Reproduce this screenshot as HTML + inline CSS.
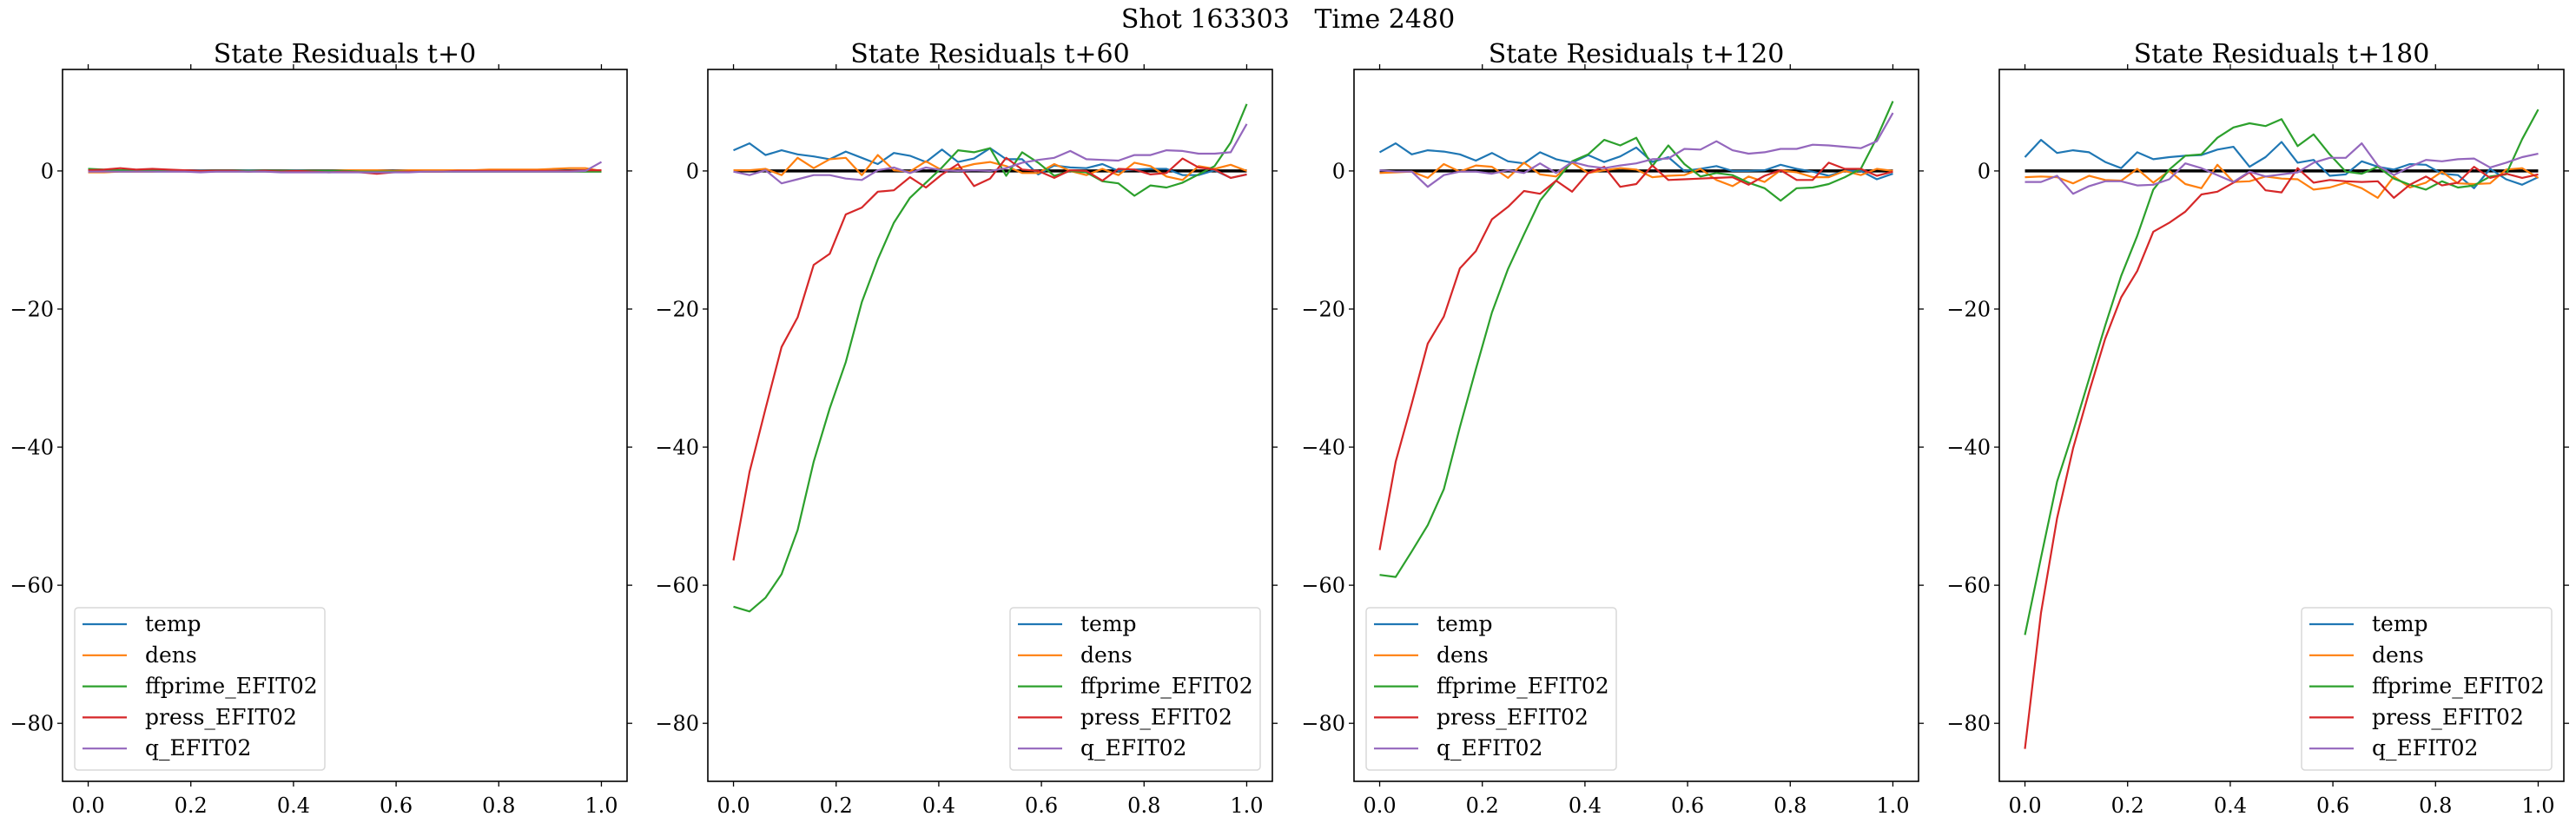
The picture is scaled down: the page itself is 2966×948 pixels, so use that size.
<!DOCTYPE html>
<html><head><meta charset="utf-8"><style>
html,body{margin:0;padding:0;background:#fff;}
svg text{font-family:"DejaVu Serif","Liberation Serif",serif;fill:#000;}
</style></head><body>
<svg id="fig" width="2966" height="943" viewBox="0 0 2966 943" xmlns="http://www.w3.org/2000/svg">
<rect width="2966" height="943" fill="#fff"/>
<text x="1483" y="32" font-size="30" text-anchor="middle" xml:space="preserve">Shot 163303   Time 2480</text>
</svg>
<script>
const seriesNames = ["temp","dens","ffprime_EFIT02","press_EFIT02","q_EFIT02"];
const panelTitles = ["State Residuals t+0","State Residuals t+60","State Residuals t+120","State Residuals t+180"];
const xTicks = [0,0.2,0.4,0.6,0.8,1.0];
const xTickLabels = ["0.0","0.2","0.4","0.6","0.8","1.0"];
const yTicks = [0,-20,-40,-60,-80];
const yTickLabels = ["0","\u221220","\u221240","\u221260","\u221280"];

const p0temp = [0.1,0,0.1,0,0.1,0,0,0.1,0,0,0.1,0,0,0.1,0,0,0,0.1,0,0,0.1,0,0,0.1,0,0,0.1,0,0,0.1,0,0.1,0.1];
const p0dens = [-0.2,-0.2,-0.1,-0.1,-0.1,0,0,0,0,0,0,0,0,0,0,0,0.1,0.1,0.1,0,0.1,0.1,0.1,0.1,0.1,0.2,0.2,0.2,0.2,0.3,0.4,0.4,0];
const p0ffp = [0.3,0.2,0.1,0.1,0.1,0.1,0,0,0,0,0,0,0,0,0,0,0,-0.1,-0.1,-0.1,-0.1,-0.1,-0.1,-0.1,-0.1,-0.1,-0.1,-0.1,-0.1,-0.1,-0.1,-0.1,-0.1];
const p0press = [0.1,0.2,0.4,0.2,0.3,0.2,0.1,0,0,0,-0.1,0,-0.1,0,-0.1,-0.2,-0.1,-0.2,-0.4,-0.2,-0.1,-0.1,-0.1,0,0,0,0,0,0,0,0,0.1,0.1];
const p0q = [-0.1,-0.1,-0.1,-0.1,-0.1,-0.1,-0.1,-0.2,-0.1,-0.1,-0.1,-0.1,-0.2,-0.2,-0.2,-0.2,-0.2,-0.2,-0.2,-0.2,-0.2,-0.1,-0.1,-0.1,-0.1,-0.1,-0.1,-0.1,-0.1,-0.1,-0.1,0,1.3];

const p1temp = [3.0,4.0,2.3,3.0,2.4,2.1,1.7,2.8,1.9,1.0,2.6,2.2,1.3,3.1,1.3,1.8,3.3,1.7,1.7,-0.5,0.8,0.5,0.4,1.0,0,0.2,0.3,0.3,-0.6,-0.6,0.1,-1.0,-0.5];
const p1dens = [0.1,0.1,0.3,-0.6,1.9,0.4,1.7,1.9,-0.6,2.3,0.1,-0.1,1.4,0.1,0.4,1.0,1.3,0.7,-0.3,-0.3,1.0,0,-0.6,0.3,-0.6,1.2,0.7,-0.8,-1.3,0.7,0.3,0.9,0];
const p1ffp = [-63.1,-63.8,-61.8,-58.4,-52.0,-42.1,-34.4,-27.7,-19.0,-12.8,-7.5,-3.9,-1.7,0.5,3.0,2.7,3.3,-0.7,2.7,1.2,-0.7,0,-0.2,-1.5,-1.8,-3.6,-2.1,-2.4,-1.7,-0.5,0.7,4.1,9.7];
const p1press = [-56.4,-43.6,-34.4,-25.5,-21.2,-13.6,-12.0,-6.3,-5.3,-3.0,-2.8,-0.9,-2.4,-0.5,1.0,-2.2,-1.1,1.9,0.2,0,-1.0,0.1,0,-1.4,0.3,0.2,-0.5,-0.3,1.8,0.5,0.2,-1.0,-0.5];
const p1q = [-0.1,-0.6,0.1,-1.8,-1.2,-0.6,-0.6,-1.1,-1.3,0.1,0.5,-0.3,0.5,0.1,0,0.1,0,0.4,1.2,1.6,1.9,2.9,1.7,1.6,1.5,2.3,2.3,3.0,2.9,2.5,2.5,2.7,6.8];

const p2temp = [2.7,4.0,2.4,3.0,2.8,2.4,1.5,2.6,1.4,1.1,2.7,1.7,1.2,2.3,1.3,2.1,3.4,1.3,2.0,0,0.3,0.7,0,0,0.1,0.9,0.3,-0.1,-0.7,0,0,-1.2,-0.4];
const p2dens = [-0.3,-0.2,-0.1,-1.0,1.0,-0.1,0.8,0.6,-1.0,1.2,-0.5,-0.8,1.2,-0.3,0.1,0.4,0.2,-0.9,-0.7,-0.6,0.3,-1.3,-2.2,-0.8,-1.6,0.1,-0.2,-0.9,-0.9,0,-0.6,0.3,0];
const p2ffp = [-58.5,-58.8,-55.1,-51.3,-46.1,-37.1,-28.7,-20.5,-14.2,-9.2,-4.3,-1.4,1.4,2.4,4.5,3.7,4.8,0.7,3.7,1.0,-0.8,-0.3,-0.6,-1.7,-2.5,-4.3,-2.5,-2.4,-1.9,-0.9,0.3,4.8,10.1];
const p2press = [-54.9,-42.1,-33.7,-25.0,-21.1,-14.1,-11.6,-7.0,-5.2,-2.9,-3.3,-1.4,-3.0,-0.3,0.6,-2.3,-1.9,0.8,-1.3,-1.2,-1.1,-1.0,-0.9,-2.0,-0.7,0.1,-1.3,-1.3,1.2,0.3,0.3,-0.7,-0.1];
const p2q = [0.1,-0.1,-0.1,-2.3,-0.6,-0.1,-0.1,-0.4,0.1,-0.3,1.1,-0.3,1.3,0.7,0.4,0.8,1.1,1.7,1.8,3.2,3.1,4.3,3.0,2.5,2.7,3.2,3.2,3.8,3.7,3.5,3.3,4.3,8.4];

const p3temp = [2.0,4.5,2.6,3.0,2.7,1.3,0.4,2.7,1.7,2.0,2.2,2.3,3.1,3.5,0.6,2.0,4.2,1.2,1.6,-0.7,-0.5,1.4,0.6,0.2,1.0,0.9,-0.4,-0.6,-2.5,0.3,-1.2,-2.0,-0.9];
const p3dens = [-0.9,-0.8,-0.9,-1.8,-0.7,-1.3,-1.4,0.3,-1.7,0,-1.9,-2.5,0.9,-1.6,-1.5,-0.8,-1.1,-1.2,-2.7,-2.4,-1.7,-2.5,-3.9,-0.8,-2.4,-1.7,-0.1,-1.8,-1.9,-1.8,0.2,0.4,-1.0];
const p3ffp = [-67.2,-56.0,-45.0,-37.8,-30.1,-22.4,-15.2,-9.4,-2.7,0.2,2.2,2.4,4.8,6.3,6.9,6.5,7.5,3.6,5.3,2.4,-0.1,-0.4,0.6,-1.1,-2.0,-2.7,-1.5,-2.4,-2.1,-0.8,-0.5,4.6,8.9];
const p3press = [-83.7,-64.0,-50.3,-40.2,-32.0,-24.3,-18.3,-14.5,-8.8,-7.5,-5.9,-3.4,-3.0,-1.7,-0.2,-2.8,-3.1,0.4,-1.7,-1.3,-1.5,-1.6,-1.5,-3.9,-2.0,-0.8,-2.1,-1.7,0.6,-1.0,-0.4,-1.0,-0.5];
const p3q = [-1.6,-1.6,-0.7,-3.3,-2.2,-1.5,-1.5,-2.1,-2.0,-1.2,1.1,0.4,-0.6,-1.6,-0.1,-0.8,-0.5,-0.2,1.2,1.9,1.9,4.0,0.8,-0.6,0.6,1.6,1.4,1.7,1.8,0.5,1.2,2.0,2.5];

const panelData = [
  [p0temp,p0dens,p0ffp,p0press,p0q],
  [p1temp,p1dens,p1ffp,p1press,p1q],
  [p2temp,p2dens,p2ffp,p2press,p2q],
  [p3temp,p3dens,p3ffp,p3press,p3q]
];
const legendCorner = ["left","right","left","right"];

const NS = "http://www.w3.org/2000/svg";
const svg = document.getElementById("fig");
const colors = ["#1f77b4","#ff7f0e","#2ca02c","#d62728","#9467bd"];
const panelLefts = [72,815,1559,2302];
const PW = 650, PT = 80, PB = 900;
const XMIN = -0.05, XMAX = 1.05, YMIN = -88.4, YMAX = 14.7;

function mk(tag, attrs, parent){
  const e = document.createElementNS(NS, tag);
  for (const k in attrs) e.setAttribute(k, attrs[k]);
  (parent||svg).appendChild(e);
  return e;
}

panelData.forEach((series, p) => {
  const L = panelLefts[p], R = L + PW;
  const xs = v => L + (v - XMIN) / (XMAX - XMIN) * PW;
  const ys = v => PT + (YMAX - v) / (YMAX - YMIN) * (PB - PT);
  const g = mk("g", {});
  
  

  const t = mk("text", {x: L + PW/2, y: 72, "font-size": 30, "text-anchor": "middle"}, g);
  t.textContent = panelTitles[p];
  
  

  // zero reference line
  const zl = mk("line", {x1: xs(0), x2: xs(1), y1: ys(0), y2: ys(0), stroke: "#000", "stroke-width": 3.5}, g);
  
  

  series.forEach((vals, s) => {
    const n = vals.length;
    const pts = vals.map((v, i) => xs(i/(n-1)).toFixed(1) + "," + ys(v).toFixed(1)).join(" ");
    const pl = mk("polyline", {points: pts, fill: "none", stroke: colors[s], "stroke-width": 2.2, "stroke-linejoin": "round"}, g);
    
    
  });

  // frame
  const fr = mk("rect", {x: L, y: PT, width: PW, height: PB-PT, fill: "none", stroke: "#000", "stroke-width": 1.6}, g);
  
  

  xTicks.forEach((v, i) => {
    const x = xs(v);
    mk("line", {x1: x, x2: x, y1: PB, y2: PB + 6, stroke: "#000", "stroke-width": 1.3}, g);
    mk("line", {x1: x, x2: x, y1: PT, y2: PT - 6, stroke: "#000", "stroke-width": 1.3}, g);
    const tl = mk("text", {x: x, y: 936, "font-size": 24, "text-anchor": "middle"}, g);
    tl.textContent = xTickLabels[i];
    
    
  });
  yTicks.forEach((v, i) => {
    const y = ys(v);
    mk("line", {x1: L, x2: L - 6, y1: y, y2: y, stroke: "#000", "stroke-width": 1.3}, g);
    mk("line", {x1: R, x2: R + 6, y1: y, y2: y, stroke: "#000", "stroke-width": 1.3}, g);
    const tl = mk("text", {x: L - 10, y: y + 8.5, "font-size": 24, "text-anchor": "end"}, g);
    tl.textContent = yTickLabels[i];
    
    
  });

  // legend
  const lx = legendCorner[p] === "left" ? L + 14 : R - 302;
  const lg = mk("g", {}, g);
  
  
  mk("rect", {x: lx, y: 700, width: 288, height: 187, rx: 4, fill: "#fff", "fill-opacity": 0.8, stroke: "#d8d8d8", "stroke-width": 1.5}, lg);
  seriesNames.forEach((nm, s) => {
    const cy = 719 + s * 35.8;
    const e = mk("g", {}, lg);
    
    
    mk("line", {x1: lx + 9, x2: lx + 60, y1: cy, y2: cy, stroke: colors[s], "stroke-width": 2.2}, e);
    const tx = mk("text", {x: lx + 81, y: cy + 8, "font-size": 25}, e);
    tx.textContent = nm;
  });
});
</script>
</body></html>
